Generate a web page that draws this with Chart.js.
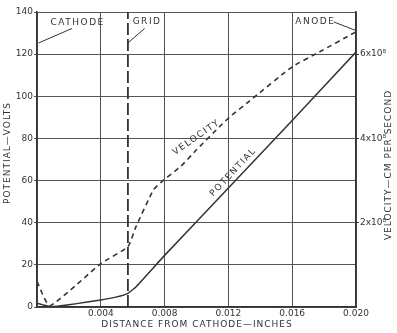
<!DOCTYPE html>
<html>
<head>
<meta charset="utf-8">
<script src="https://cdn.jsdelivr.net/npm/chart.js@4.4.0/dist/chart.umd.min.js"></script>
<style>
  html, body { margin: 0; padding: 0; background: #fff; }
  #wrap { width: 397px; height: 333px; }
</style>
</head>
<body>
<div id="wrap"><canvas id="chart"></canvas></div>
<script>
// Distance from cathode (inches) and potential (volts)
const potentialX = [0, 0.0008, 0.0015, 0.0025, 0.004, 0.005, 0.0057, 0.0062, 0.008, 0.012, 0.016, 0.020];
const potentialY = [1.8, 0.2, 0.6, 1.6, 3.3, 4.8, 6.5, 9.5, 24.5, 56.5, 88.5, 121];

// Velocity in units of 10^8 cm per second
const velocityX = [0, 0.0008, 0.004, 0.0057, 0.0062, 0.0073, 0.0079, 0.009, 0.010, 0.0115, 0.0122, 0.0133, 0.016, 0.0177, 0.020];
const velocityY = [0.6, 0.03, 1.03, 1.43, 1.9, 2.78, 3.0, 3.33, 3.73, 4.3, 4.55, 4.88, 5.7, 6.05, 6.53];

// Grid electrode position
const gridPos = 0.0057;

const xTicks = [0.004, 0.008, 0.012, 0.016, 0.020];
const rightTicks = { 2: '2x10⁸', 4: '4x10⁸', 6: '6x10⁸' };

// Labels placed in data units: [text, x, y]
const notes = [
  ['CATHODE', 0.00255, 134.8],
  ['GRID', 0.0069, 135.3],
  ['ANODE', 0.01745, 135.3]
];
// Leader lines: [x1, y1, x2, y2]
const leaders = [
  [0.0022, 132.2, 0.0001, 125.3],
  [0.00675, 132.2, 0.0057, 125.3],
  [0.0186, 135.3, 0.0200, 131.2]
];

const ink = '#333';
const font = 'DejaVu Sans';

const extras = {
  id: 'extras',
  afterDraw(chart) {
    const ctx = chart.ctx;
    const x = chart.scales.x, y = chart.scales.y;
    ctx.save();
    ctx.fillStyle = ink;
    ctx.strokeStyle = ink;
    ctx.lineWidth = 1;
    ctx.font = '9px ' + font;
    ctx.letterSpacing = '1.5px';
    ctx.textAlign = 'center';
    ctx.textBaseline = 'middle';
    notes.forEach(n => ctx.fillText(n[0], x.getPixelForValue(n[1]), y.getPixelForValue(n[2])));
    leaders.forEach(l => {
      ctx.beginPath();
      ctx.moveTo(x.getPixelForValue(l[0]), y.getPixelForValue(l[1]));
      ctx.lineTo(x.getPixelForValue(l[2]), y.getPixelForValue(l[3]));
      ctx.stroke();
    });

    // curve labels
    ctx.save();
    ctx.translate(x.getPixelForValue(0.0100), y.getPixelForValue(80.5));
    ctx.rotate(-35 * Math.PI / 180);
    ctx.fillText('VELOCITY', 0, 0);
    ctx.restore();
    ctx.save();
    ctx.translate(x.getPixelForValue(0.0123), y.getPixelForValue(64));
    ctx.rotate(-47 * Math.PI / 180);
    ctx.fillText('POTENTIAL', 0, 0);
    ctx.restore();

    // axis titles
    ctx.letterSpacing = '1px';
    ctx.fillText('DISTANCE FROM CATHODE\u2014INCHES', 197, 325);
    ctx.save();
    ctx.translate(8, 153);
    ctx.rotate(-Math.PI / 2);
    ctx.fillText('POTENTIAL\u2014VOLTS', 0, 0);
    ctx.restore();
    ctx.save();
    ctx.translate(389, 165);
    ctx.rotate(-Math.PI / 2);
    ctx.fillText('VELOCITY\u2014CM PER SECOND', 0, 0);
    ctx.restore();
    ctx.restore();
  }
};

new Chart(document.getElementById('chart'), {
  type: 'line',
  data: {
    datasets: [
      {
        label: 'Potential',
        data: potentialX.map((d, i) => ({ x: d, y: potentialY[i] })),
        borderColor: ink,
        borderWidth: 1.5,
        pointRadius: 0,
        tension: 0.1,
        yAxisID: 'y'
      },
      {
        label: 'Velocity',
        data: velocityX.map((d, i) => ({ x: d, y: velocityY[i] })),
        borderColor: ink,
        borderWidth: 1.6,
        borderDash: [5, 4],
        pointRadius: 0,
        tension: 0.15,
        yAxisID: 'y1'
      },
      {
        label: 'Grid',
        data: [{ x: gridPos, y: 0 }, { x: gridPos, y: 140 }],
        borderColor: ink,
        borderWidth: 1.8,
        borderDash: [12, 4],
        pointRadius: 0,
        yAxisID: 'y'
      }
    ]
  },
  options: {
    responsive: true,
    maintainAspectRatio: false,
    animation: false,
    layout: { padding: { top: 12, left: 0, right: 0, bottom: 0 } },
    plugins: { legend: { display: false }, tooltip: { enabled: false } },
    scales: {
      x: {
        type: 'linear',
        min: 0,
        max: 0.020,
        afterFit: s => { s.height = 26; },
        afterBuildTicks: s => { s.ticks = [0].concat(xTicks).map(v => ({ value: v })); },
        ticks: {
          color: ink,
          font: { family: font, size: 9 },
          padding: 1,
          maxRotation: 0,
          callback: v => v === 0 ? '' : v.toFixed(3)
        },
        grid: { color: '#555', lineWidth: 1, tickLength: 0 },
        border: { color: ink, width: 1.5 }
      },
      y: {
        min: 0,
        max: 140,
        afterFit: s => { s.width = 37; },
        ticks: {
          stepSize: 20,
          color: ink,
          font: { family: font, size: 9 },
          padding: 1
        },
        grid: { color: '#555', lineWidth: 1, tickLength: 3 },
        border: { color: ink, width: 1.5 }
      },
      y1: {
        position: 'right',
        min: 0,
        max: 7,
        afterFit: s => { s.width = 41; },
        afterBuildTicks: s => { s.ticks = [2, 4, 6].map(v => ({ value: v })); },
        ticks: {
          color: ink,
          font: { family: font, size: 9 },
          padding: 1,
          callback: v => rightTicks[v] || ''
        },
        grid: { drawOnChartArea: false, color: ink, tickLength: 3 },
        border: { color: ink, width: 1.5 }
      }
    }
  },
  plugins: [extras]
});
</script>
</body>
</html>
